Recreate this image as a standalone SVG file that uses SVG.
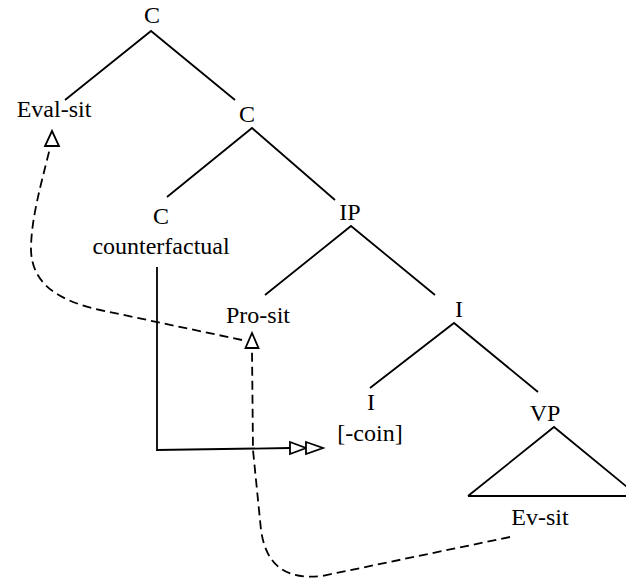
<svg xmlns="http://www.w3.org/2000/svg" width="626" height="579" viewBox="0 0 626 579">
  <style>
    .lbl { font-family: "Liberation Serif", "Times New Roman", serif; font-size: 24px; fill: #000; text-anchor: middle; }
    .branch { stroke: #000; stroke-width: 1.8; fill: none; stroke-linecap: butt; }
    .move { stroke: #000; stroke-width: 1.8; fill: none; stroke-dasharray: 9 5; }
    .head { stroke: #000; stroke-width: 1.8; fill: #fff; stroke-linejoin: miter; }
  </style>
  <rect width="626" height="579" fill="#fff"/>

  <!-- tree nodes -->
  <g id="node-C-root"><text class="lbl" x="152" y="23">C</text></g>
  <g id="node-eval-sit"><text class="lbl" x="54" y="117">Eval-sit</text></g>
  <g id="node-C-bar"><text class="lbl" x="247" y="122">C</text></g>
  <g id="node-C-head">
    <text class="lbl" x="161" y="224">C</text>
    <text class="lbl" x="161" y="254">counterfactual</text>
  </g>
  <g id="node-IP"><text class="lbl" x="350" y="220">IP</text></g>
  <g id="node-pro-sit"><text class="lbl" x="258" y="323">Pro-sit</text></g>
  <g id="node-I-bar"><text class="lbl" x="459" y="317">I</text></g>
  <g id="node-I-head">
    <text class="lbl" x="371" y="410">I</text>
    <text class="lbl" x="370" y="441">[-coin]</text>
  </g>
  <g id="node-VP"><text class="lbl" x="545" y="421">VP</text></g>
  <g id="node-ev-sit"><text class="lbl" x="540" y="525">Ev-sit</text></g>

  <!-- branches, movement paths and arrowheads -->
  <g id="connectors">
    <path class="branch" d="M65,100 L151,31 L235,100"/>
    <path class="branch" d="M167,197 L252,128 L335,200"/>
    <path class="branch" d="M265,295 L351,226 L435,295"/>
    <path class="branch" d="M370,388 L454,323 L538,392"/>
    <!-- VP triangle -->
    <path class="branch" d="M468,496 L554,427 L627,487"/>
    <path class="branch" d="M468,496 L627,496"/>

    <!-- counterfactual to [-coin] -->
    <path class="branch" d="M157,267 L157,450 L290,448"/>
    <path class="head" d="M290,442 L306,448 L290,454 Z"/>
    <path class="head" d="M306,442 L323,448 L306,454 Z"/>

    <!-- Pro-sit to Eval-sit -->
    <path class="move" d="M242,340 L100,310 C60,301 32,285 31,250 C31,220 40,188 50,148"/>
    <path class="head" d="M52,131 L59,146 L45,146 Z"/>

    <!-- Ev-sit to Pro-sit -->
    <path class="move" d="M510,537 L322,576 C285,580 266,565 261,530 L253,450 L252,350"/>
    <path class="head" d="M252,333 L258.5,348 L245.5,348 Z"/>
  </g>
</svg>
